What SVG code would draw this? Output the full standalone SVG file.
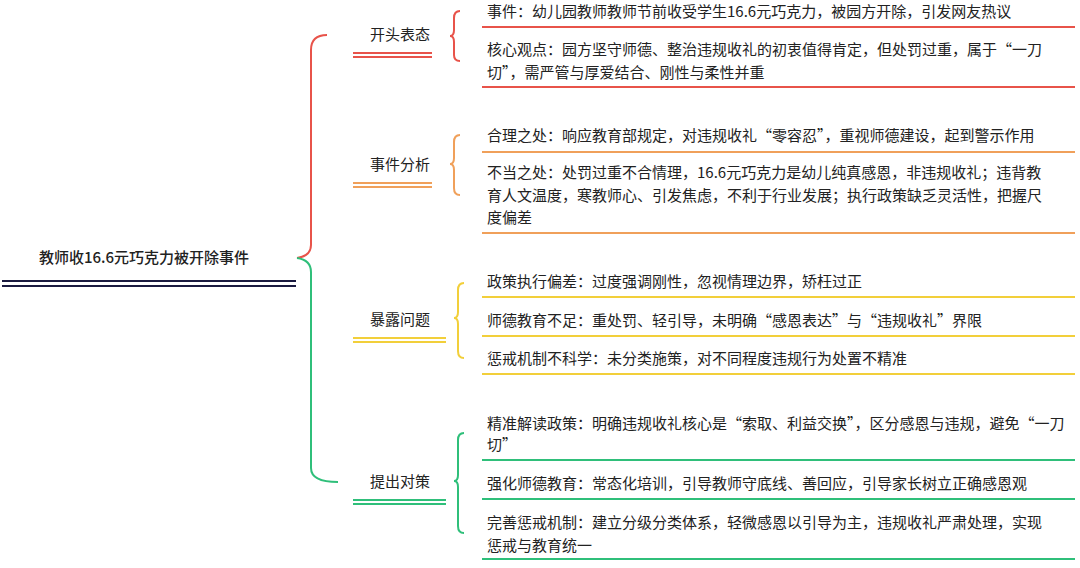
<svg xmlns="http://www.w3.org/2000/svg" width="1080" height="568" viewBox="0 0 1080 568">
<style>
text{font-family:"Noto Sans CJK SC","Noto Sans",sans-serif;font-size:15px;fill:#222;dominant-baseline:central}
.m{text-anchor:middle}
.r{stroke:#e8534a}.o{stroke:#f0a05a}.y{stroke:#f2cf3a}.g{stroke:#2fbf7a}
path,line{fill:none;stroke-width:2}
</style>
<rect width="1080" height="568" fill="#fff"/>
<g id="connectors">
<path class="r" d="M297 258 Q311 256 311 245 L311 50 Q311 35 327 35"/>
<path class="g" d="M297 258 Q311 260 311 272 L311 468 Q311 482 338 482"/>
<path class="r" d="M460 11 Q454 11 454 18 L454 30 Q454 36 450 36 Q454 36 454 42 L454 55 Q454 61 460 61"/>
<path class="o" d="M460 135 Q454 135 454 142 L454 158 Q454 164 450 164 Q454 164 454 170 L454 188 Q454 195 460 195"/>
<path class="y" d="M464 283 Q458 283 458 290 L458 312 Q458 318 454 318 Q458 318 458 324 L458 351 Q458 358 464 358"/>
<path class="g" d="M464 433 Q458 433 458 440 L458 475 Q458 481 454 481 Q458 481 458 487 L458 526 Q458 533 464 533"/>
</g>
<g id="root">
<text class="m" x="144" y="256" style="font-size:15px;font-weight:500">教师收16.6元巧克力被开除事件</text>
<line x1="2" y1="281" x2="296" y2="281" stroke="#1a1a40" stroke-width="2.5"/>
<line x1="2" y1="286" x2="296" y2="286" stroke="#1a1a40" stroke-width="2.5"/>
</g>
<g id="b1"><text class="m" x="400" y="33">开头表态</text><line class="r" x1="353" y1="53" x2="432" y2="53"/><line class="r" x1="353" y1="57" x2="432" y2="57"/></g>
<g id="b2"><text class="m" x="400" y="163">事件分析</text><line class="o" x1="353" y1="183" x2="432" y2="183"/><line class="o" x1="353" y1="187" x2="432" y2="187"/></g>
<g id="b3"><text class="m" x="400" y="318">暴露问题</text><line class="y" x1="353" y1="338" x2="446" y2="338"/><line class="y" x1="353" y1="342" x2="446" y2="342"/></g>
<g id="b4"><text class="m" x="400" y="480">提出对策</text><line class="g" x1="353" y1="500" x2="446" y2="500"/><line class="g" x1="353" y1="504" x2="446" y2="504"/></g>
<g id="l1"><text x="487" y="10">事件：幼儿园教师教师节前收受学生16.6元巧克力，被园方开除，引发网友热议</text><line class="r" x1="482" y1="27" x2="1075" y2="27"/></g>
<g id="l2"><text x="487" y="48">核心观点：园方坚守师德、整治违规收礼的初衷值得肯定，但处罚过重，属于“一刀</text><text x="487" y="71">切”，需严管与厚爱结合、刚性与柔性并重</text><line class="r" x1="482" y1="87" x2="1075" y2="87"/></g>
<g id="l3"><text x="487" y="134">合理之处：响应教育部规定，对违规收礼“零容忍”，重视师德建设，起到警示作用</text><line class="o" x1="482" y1="152" x2="1075" y2="152"/></g>
<g id="l4"><text x="487" y="171">不当之处：处罚过重不合情理，16.6元巧克力是幼儿纯真感恩，非违规收礼；违背教</text><text x="487" y="194">育人文温度，寒教师心、引发焦虑，不利于行业发展；执行政策缺乏灵活性，把握尺</text><text x="487" y="216">度偏差</text><line class="o" x1="482" y1="233" x2="1075" y2="233"/></g>
<g id="l5"><text x="487" y="280">政策执行偏差：过度强调刚性，忽视情理边界，矫枉过正</text><line class="y" x1="482" y1="297" x2="1075" y2="297"/></g>
<g id="l6"><text x="487" y="319">师德教育不足：重处罚、轻引导，未明确“感恩表达”与“违规收礼”界限</text><line class="y" x1="482" y1="336" x2="1075" y2="336"/></g>
<g id="l7"><text x="487" y="357">惩戒机制不科学：未分类施策，对不同程度违规行为处置不精准</text><line class="y" x1="482" y1="374" x2="1075" y2="374"/></g>
<g id="l8"><text x="487" y="422">精准解读政策：明确违规收礼核心是“索取、利益交换”，区分感恩与违规，避免“一刀</text><text x="487" y="443">切”</text><line class="g" x1="482" y1="460" x2="1075" y2="460"/></g>
<g id="l9"><text x="487" y="482">强化师德教育：常态化培训，引导教师守底线、善回应，引导家长树立正确感恩观</text><line class="g" x1="482" y1="499" x2="1075" y2="499"/></g>
<g id="l10"><text x="487" y="521">完善惩戒机制：建立分级分类体系，轻微感恩以引导为主，违规收礼严肃处理，实现</text><text x="487" y="544">惩戒与教育统一</text><line class="g" x1="482" y1="559" x2="1075" y2="559"/></g>
</svg>
